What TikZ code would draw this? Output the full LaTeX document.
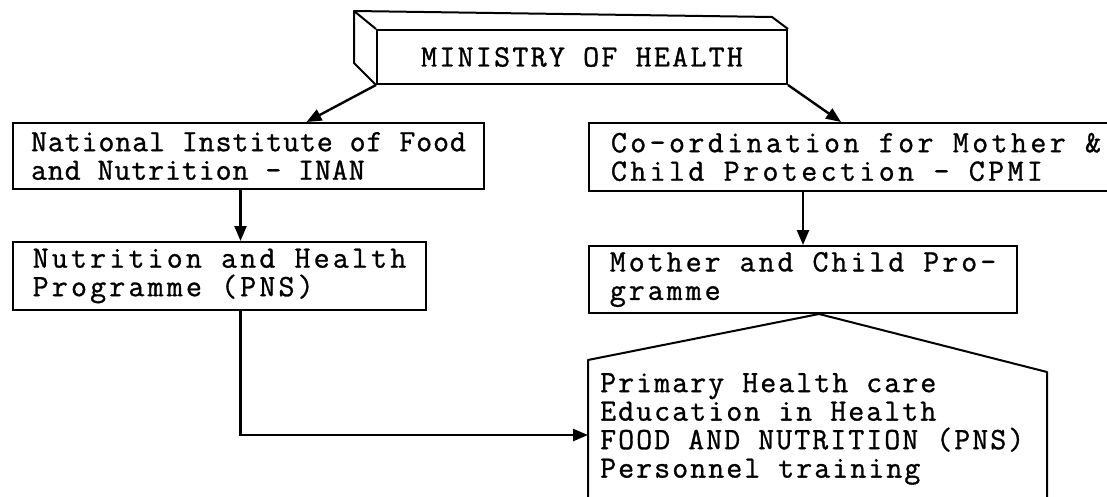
\documentclass[tikz,border=0pt]{standalone}
\usepackage{fontspec}
\setmonofont{Latin Modern Mono}[FakeBold=1]
\usetikzlibrary{arrows.meta,positioning,calc}

\begin{document}
\begin{tikzpicture}[
        x=1pt, y=-1pt,
        block/.style={rectangle, draw, line width=2pt, align=left, inner xsep=4pt, inner ysep=0pt},
        arrow/.style={line width=2.4pt, -{Triangle[length=15pt, width=12pt]}},
        % texte machine a ecrire, pas variable selon la boite
        tw/.style={font=\ttfamily\fontsize{31}{28.5}\selectfont\addfontfeature{LetterSpace=#1}},
        edge3d/.style={line width=2pt, line join=round}
    ]
    \useasboundingbox (0,0) rectangle (1107,497);
    \clip (0,0) rectangle (1107,497);

    % --- Ministere (boite en relief) ---
    \node (moh) [block, tw=7.4, minimum width=410pt, minimum height=54pt] at (582,57) {MINISTRY OF HEALTH};
    \draw[edge3d] (moh.north west) -- ++(-22,-18) coordinate (back) -- ++(0,52) -- (moh.south west);
    \draw[edge3d] (back) -- (772,17) -- (moh.north east);

    % --- Branche gauche ---
    \node (inan) [block, tw=2.9, anchor=north west, minimum width=471pt, minimum height=66pt] at (12,122) {National Institute of Food\\and Nutrition - INAN};
    \node (pns) [block, tw=10.3, below=51pt of inan.south west, anchor=north west, minimum width=413pt, minimum height=68pt] {Nutrition and Health\\Programme (PNS)};

    % --- Branche droite ---
    \node (cpmi) [block, tw=11, anchor=north west, minimum width=534pt, minimum height=68pt] at (588,122) {Co-ordination for Mother \&\\Child Protection - CPMI};
    \node (mcp) [block, tw=9.7, below=53pt of cpmi.south west, anchor=north west, minimum width=428pt, minimum height=67pt] {Mother and Child Pro-\\gramme};

    % --- Activites (pentagone ouvert en bas) ---
    \coordinate (apex) at ([xshift=16pt]mcp.south);
    \coordinate (lsh) at (588,360);
    \coordinate (rsh) at (1047,372);
    \draw[edge3d] (lsh |- 0,520) -- (lsh) -- (apex) -- (rsh) -- (rsh |- 0,520);
    \node (care) [tw=6.6, anchor=north west, align=left, inner sep=0pt] at (600,373) {Primary Health care\\Education in Health\\FOOD AND NUTRITION (PNS)\\Personnel training};
    \coordinate (entry) at (lsh |- 0,435);

    \draw[arrow] (moh.south west) -- ([xshift=58pt]inan.north);
    \draw[arrow] (moh.south east) -- ([xshift=-15pt]cpmi.north);
    \draw[arrow] ([xshift=-8pt]inan.south) coordinate (a1) -- (a1 |- pns.north);
    \draw[arrow] (cpmi.south -| mcp.north) -- (mcp.north);
    \draw[arrow] (a1 |- pns.south) |- (entry);

\end{tikzpicture}
\end{document}
